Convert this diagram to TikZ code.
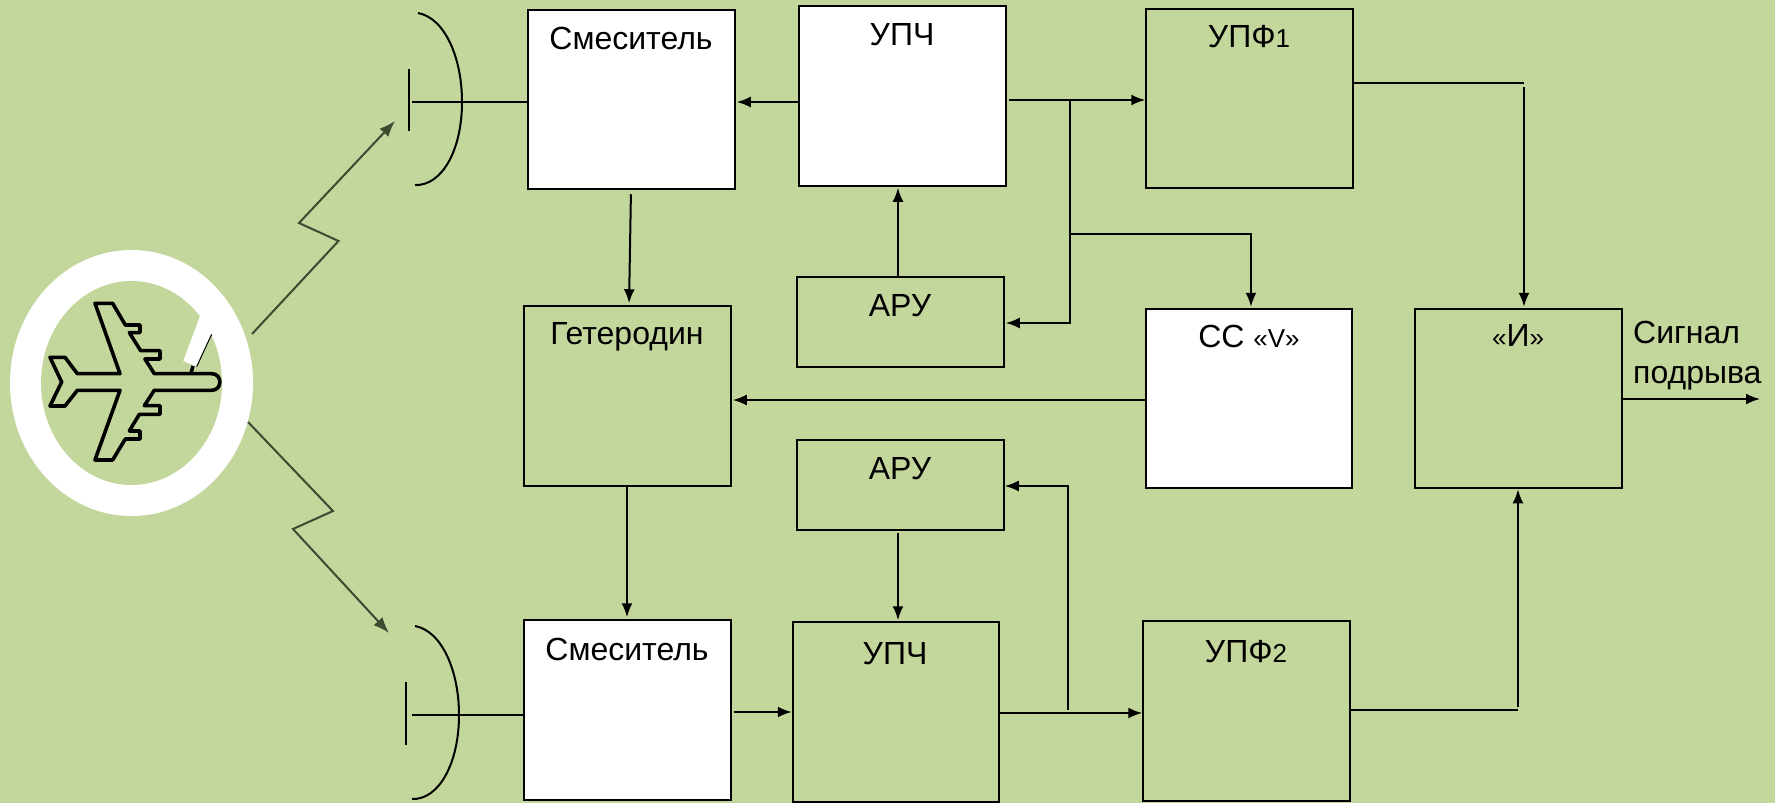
\documentclass[tikz,border=0pt]{standalone}
\usepackage{fontspec}
\setmainfont{Liberation Sans}
\usetikzlibrary{arrows.meta,shapes.geometric}
\definecolor{bgc}{HTML}{C3D69B}
\definecolor{bolt}{HTML}{3F4A33}
\tikzset{
  blockbox/.style={draw=black,line width=2pt,minimum width=206.5pt,minimum height=179.5pt,inner sep=0pt,outer sep=0pt},
  shortbox/.style={blockbox,minimum height=89.5pt},
  whitebox/.style={fill=white},
  lbl/.style={anchor=base,inner sep=0pt,font=\fontsize{32}{38}\selectfont},
  conn/.style={draw=black,line width=2pt},
  arr/.style={conn,-{Latex[length=14pt,width=11pt]}},
  boltline/.style={draw=bolt,line width=2pt,-{Latex[length=16pt,width=12pt]}},
  antline/.style={draw=black,line width=2pt}
}
\newcommand{\smallq}[1]{{\fontsize{26}{30}\selectfont #1}}
\begin{document}
\begin{tikzpicture}[x=1pt,y=-1pt]
\useasboundingbox (0,0) rectangle (1775,803);
\fill[bgc] (0,0) rectangle (1775,803);

% target: ring and aircraft
\node[ellipse,draw=none,fill=white,minimum width=243pt,minimum height=266pt,inner sep=0pt,outer sep=0pt] (ring) at (131.5,383) {};
\node[ellipse,draw=none,fill=bgc,minimum width=181pt,minimum height=204pt,inner sep=0pt,outer sep=0pt] (ringin) at (131.5,383) {};
\begin{scope}[x=0.3333pt,y=-0.3333pt,yshift=-230pt]
\draw[black,line width=3.6pt,line join=round]
 (150,382)--(195,382)--(232,431)--(360,431)--(285,220)--(338,220)--(376,285)--(420,285)--(420,308)--(388,308)--(422,362)--(480,362)--(480,387)--(435,387)--(463,431)--(635,431)
 .. controls (668,431) and (668,481) .. (635,481)
 --(463,481)--(433,527)--(480,527)--(480,553)--(418,553)--(388,603)--(420,603)--(420,627)--(376,627)--(338,690)--(285,690)--(360,481)--(232,481)--(195,528)--(150,528)--(185,456)--cycle;
\fill[white] (600,258)--(550,393)--(590,410)--(640,300)--(660,240)--cycle;
\draw[black,line width=1pt] (635,313)--(590,410);
\draw[black,line width=3.5pt] (579,408)--(572,434);
\end{scope}

% blocks
\node[blockbox,whitebox] (sm1) at (631.5,99.5) {};
\node[blockbox,whitebox] (up1) at (902.5,96) {};
\node[blockbox] (pf1) at (1249.5,98.5) {};
\node[shortbox] (ar1) at (900.5,322) {};
\node[blockbox] (het) at (627.5,396) {};
\node[blockbox,whitebox] (ss) at (1249,398.5) {};
\node[blockbox] (and) at (1518.5,398.5) {};
\node[shortbox] (ar2) at (900.5,485) {};
\node[blockbox,whitebox] (sm2) at (627.5,710) {};
\node[blockbox] (up2) at (896,712) {};
\node[blockbox] (pf2) at (1246.5,711) {};

% labels
\node[lbl] (t1) at (631,49) {Смеситель};
\node[lbl] (t2) at (902,45) {УПЧ};
\node[lbl] (t3) at (1249,47) {УПФ\smallq{1}};
\node[lbl] (t4) at (900,316) {АРУ};
\node[lbl] (t5) at (627,344) {Гетеродин};
\node[lbl] (t6) at (1249,347) {СС \smallq{«V»}};
\node[lbl] (t7) at (1518,346) {\smallq{«}И\smallq{»}};
\node[lbl] (t8) at (900,479) {АРУ};
\node[lbl] (t9) at (627,660) {Смеситель};
\node[lbl] (t10) at (895,664) {УПЧ};
\node[lbl] (t11) at (1246,662) {УПФ\smallq{2}};
\node[lbl,anchor=base west] (t12) at (1633,343) {Сигнал};
\node[lbl,anchor=base west] (t13) at (1633,383) {подрыва};

% antennas
\coordinate (ant1f) at (412,102);
\coordinate (ant2f) at (412,715);
\draw[antline] (409,69)--(409,131);
\draw[antline] (418,13) .. controls (445,18) and (462,58) .. (462,102) .. controls (462,150) and (442,186) .. (415,185);
\draw[conn] (ant1f)--(sm1.west|-ant1f);
\draw[antline] (406,682)--(406,745);
\draw[antline] (415,626) .. controls (442,631) and (459,671) .. (459,715) .. controls (459,763) and (439,800) .. (412,799);
\draw[conn] (ant2f)--(sm2.west|-ant2f);

% bolts
\coordinate (b1a) at (252,334);
\coordinate (b1b) at (338.5,241);
\coordinate (b1c) at (299,223);
\coordinate (b1d) at (395,121);
\coordinate (b2a) at (248,422);
\coordinate (b2b) at (333,511);
\coordinate (b2c) at (293,529);
\coordinate (b2d) at (389,633);
\draw[boltline] (b1a)--(b1b)--(b1c)--(b1d);
\draw[boltline] (b2a)--(b2b)--(b2c)--(b2d);

% connectors
\draw[arr,shorten >=2pt] (up1.west|-0,102)--(sm1.east|-0,102);
\draw[arr,shorten <=5pt,shorten >=3pt] (631,0|-sm1.south)--(629,0|-het.north);
\draw[arr,shorten >=3pt] (627,0|-het.south)--(627,0|-sm2.north);
\draw[arr,shorten >=2pt] (ss.west|-0,400)--(het.east|-0,400);
\draw[arr,shorten >=2pt] (898,0|-ar1.north)--(898,0|-up1.south);
\coordinate (j1) at (1070,100);
\coordinate (j2) at (1070,234);
\draw[conn,shorten <=3pt] (up1.east|-j1)--(j1);
\draw[arr,shorten >=1pt] (j1)--(pf1.west|-j1);
\draw[arr,shorten >=2pt] (j1)--(1070,323)--(ar1.east|-0,323);
\draw[arr,shorten >=2pt] (j2)--(1251,234)--(1251,0|-ss.north);
\coordinate (c1) at (1524,83);
\draw[conn] (pf1.east|-c1)--(c1);
\draw[arr,shorten >=2pt] (1524,87)--(1524,0|-and.north);
\draw[arr] (and.east|-0,399)--(1760,399);
\draw[arr,shorten <=3pt,shorten >=1pt] (sm2.east|-0,712)--(up2.west|-0,712);
\coordinate (j3) at (1067.5,713);
\draw[arr,shorten >=1pt] (up2.east|-j3)--(pf2.west|-j3);
\draw[arr,shorten >=1pt] (1067.5,710)--(1067.5,486)--(ar2.east|-0,486);
\draw[arr,shorten <=3pt,shorten >=2pt] (898,0|-ar2.south)--(898,0|-up2.north);
\coordinate (c2) at (1518,710);
\draw[conn] (pf2.east|-c2)--(c2);
\draw[arr,shorten >=1pt] (1518,707)--(1518,0|-and.south);
\end{tikzpicture}
\end{document}
